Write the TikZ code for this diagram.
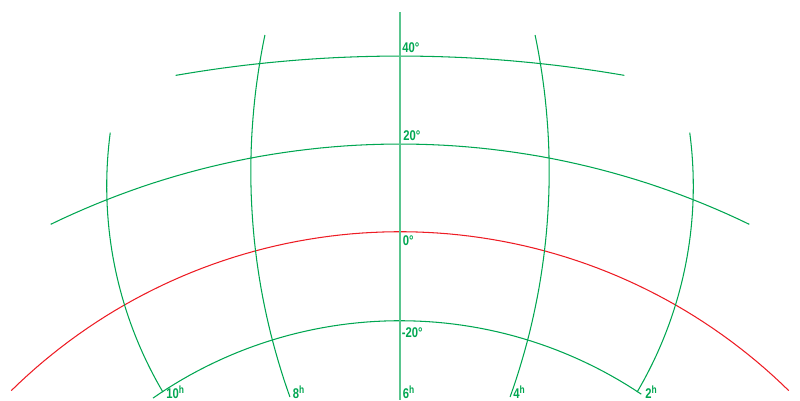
\documentclass[tikz,border=0pt]{standalone}
\usepackage{fontspec}
\setsansfont{Liberation Sans}[FakeStretch=0.8]
\usepackage{xcolor}
\definecolor{gridGreen}{RGB}{0,166,81}
\definecolor{equatorRed}{RGB}{237,28,36}
\tikzset{
  gridline/.style={draw=gridGreen,line width=0.6pt},
  equatorline/.style={draw=equatorRed,line width=0.6pt},
  coordlabel/.style={anchor=base west,inner sep=0pt,text=gridGreen,font=\sffamily\bfseries\fontsize{8}{9}\selectfont}
}

\begin{document}
\begin{tikzpicture}[x=0.02cm,y=-0.02cm]
\useasboundingbox (0,0) rectangle (800,400);
% declination circles
\draw[gridline] plot[domain=80.16:99.84,samples=40] ({400+1313*cos(\x)},{1369-1313*sin(\x)});
\draw[gridline] plot[domain=64.11:115.89,samples=60] ({400+800*cos(\x)},{944-800*sin(\x)});
\draw[equatorline] plot[domain=45.54:134.46,samples=80] ({400+555*cos(\x)},{786.7-555*sin(\x)});
\draw[gridline] plot[domain=56.14:124.78,samples=60] ({400+433*cos(\x)},{753.7-433*sin(\x)});
% hour circles
\coordinate (top6) at (400,12);
\coordinate (bot6) at (400,400);
\draw[gridline,draw=gridGreen!65] (top6) -- (bot6);
\draw[gridline] plot[domain=168.22:199.69,samples=40] ({919.8+669*cos(\x)},{171.6-669*sin(\x)});
\draw[gridline] plot[domain=-19.69:11.78,samples=40] ({-119.8+669*cos(\x)},{171.6-669*sin(\x)});
\draw[gridline] plot[domain=172.43:210.52,samples=40] ({512.2+405.5*cos(\x)},{186.1-405.5*sin(\x)});
\draw[gridline] plot[domain=-30.52:7.57,samples=40] ({287.8+405.5*cos(\x)},{186.1-405.5*sin(\x)});
% labels
\node[coordlabel] (d40) at (402,52.5) {40°};
\node[coordlabel] (d20) at (403,140) {20°};
\node[coordlabel] (d0) at (402.5,245.5) {0°};
\node[coordlabel] (dm20) at (401.5,337.7) {-20°};
\node[coordlabel] (h10) at (166,398.5) {10\textsuperscript{h}};
\node[coordlabel] (h8) at (292.5,398.5) {8\textsuperscript{h}};
\node[coordlabel] (h6) at (402.5,398.5) {6\textsuperscript{h}};
\node[coordlabel] (h4) at (513,398.5) {4\textsuperscript{h}};
\node[coordlabel] (h2) at (645,398.5) {2\textsuperscript{h}};
\end{tikzpicture}
\end{document}
